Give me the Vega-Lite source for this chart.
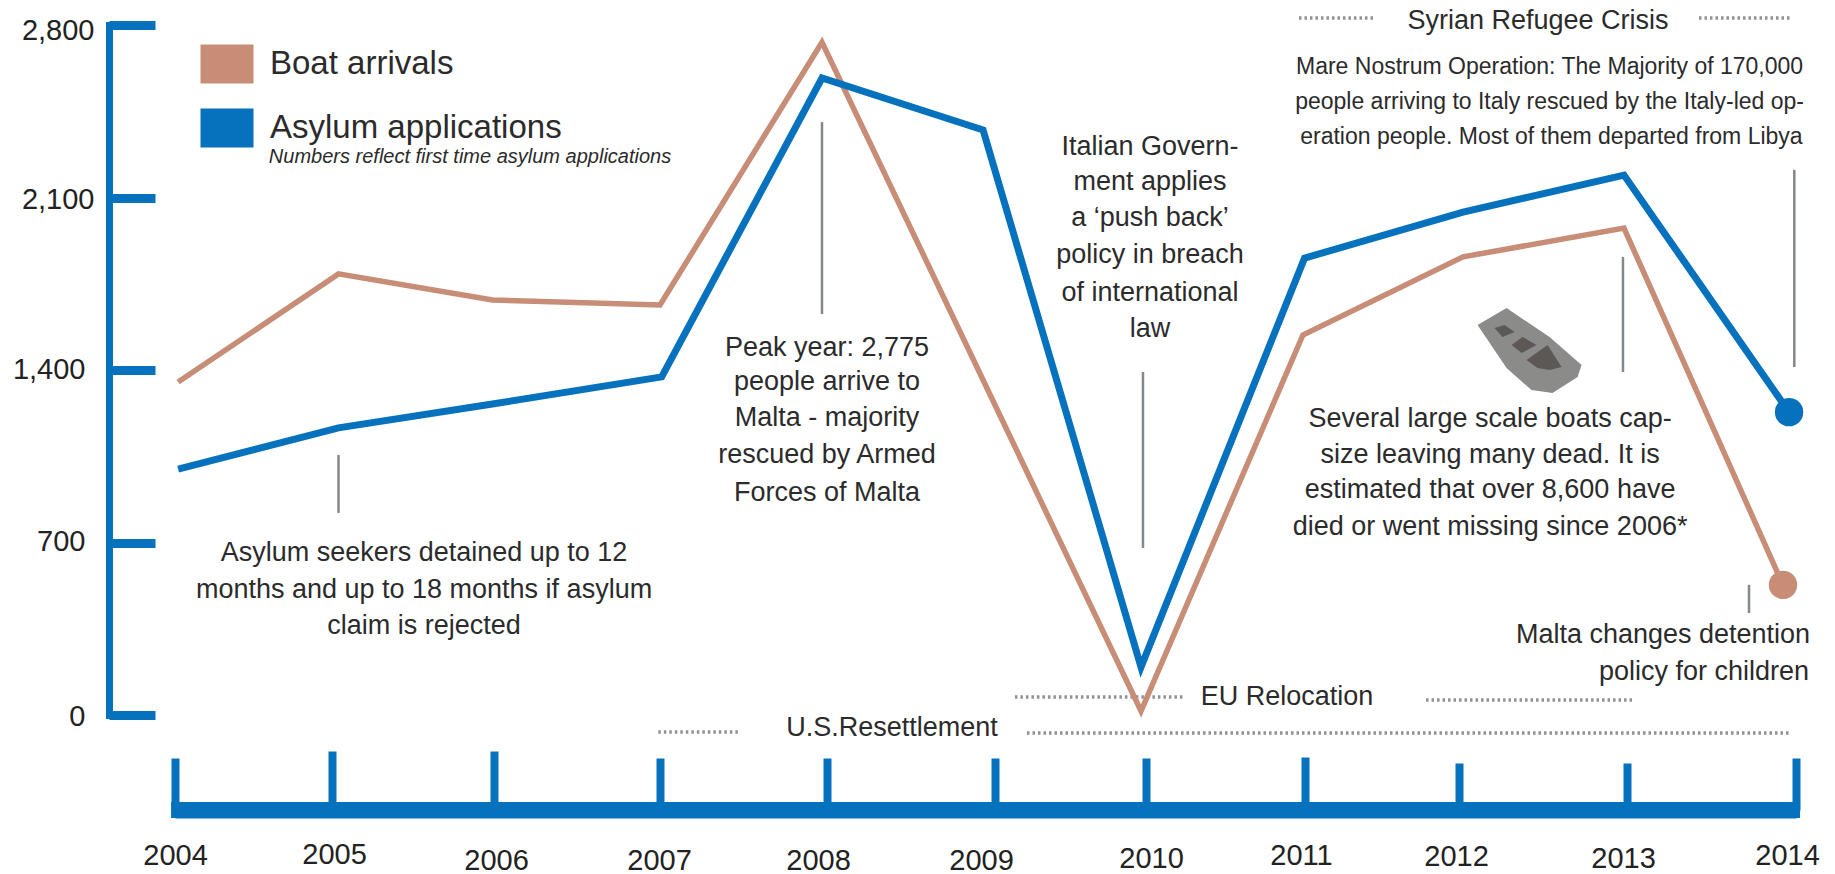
{
"$schema":"https://vega.github.io/schema/vega-lite/v6.json",
"width":1835,"height":874,"padding":0,"autosize":{"type":"none"},"background":"#ffffff",
"config":{"view":{"stroke":null},"text":{"font":"Liberation Sans","color":"#2b2b2b"}},
"datasets":{
"series":[
{"series":"Boat arrivals","year":2004,"x":2004.02,"value":1351},
{"series":"Boat arrivals","year":2005,"x":2005.04,"value":1790},
{"series":"Boat arrivals","year":2006,"x":2005.99,"value":1684},
{"series":"Boat arrivals","year":2007,"x":2007.00,"value":1664},
{"series":"Boat arrivals","year":2008,"x":2007.97,"value":2730},
{"series":"Boat arrivals","year":2009,"x":2009.00,"value":1258},
{"series":"Boat arrivals","year":2010,"x":2009.967,"value":16},
{"series":"Boat arrivals","year":2011,"x":2010.987,"value":1542},
{"series":"Boat arrivals","year":2012,"x":2012.024,"value":1859},
{"series":"Boat arrivals","year":2013,"x":2012.982,"value":1976},
{"series":"Boat arrivals","year":2014,"x":2013.923,"value":528},
{"series":"Asylum applications","year":2004,"x":2004.02,"value":998},
{"series":"Asylum applications","year":2005,"x":2005.04,"value":1165},
{"series":"Asylum applications","year":2006,"x":2005.99,"value":1262},
{"series":"Asylum applications","year":2007,"x":2007.01,"value":1372},
{"series":"Asylum applications","year":2008,"x":2007.97,"value":2585},
{"series":"Asylum applications","year":2009,"x":2008.929,"value":2374},
{"series":"Asylum applications","year":2010,"x":2009.967,"value":195},
{"series":"Asylum applications","year":2011,"x":2010.997,"value":1854},
{"series":"Asylum applications","year":2012,"x":2012.024,"value":2041},
{"series":"Asylum applications","year":2013,"x":2012.982,"value":2191},
{"series":"Asylum applications","year":2014,"x":2013.959,"value":1229}
],
"leaders":[
{"x":2005.04,"value":1055,"value2":820},
{"x":2007.97,"value":2406,"value2":1627},
{"x":2009.98,"value":1392,"value2":678},
{"x":2012.976,"value":1859,"value2":1392},
{"x":2013.99,"value":2212,"value2":1412},
{"x":2013.722,"value":528,"value2":414}
],
"periods":[
{"period":"Syrian Refugee Crisis","x":2010.962,"x2":2011.455,"value":2828},
{"period":"Syrian Refugee Crisis","x":2013.426,"x2":2013.964,"value":2828},
{"period":"EU Relocation","x":2009.132,"x2":2010.239,"value":73},
{"period":"EU Relocation","x":2011.786,"x2":2013.047,"value":61},
{"period":"U.S.Resettlement","x":2006.99,"x2":2007.467,"value":-69},
{"period":"U.S.Resettlement","x":2009.212,"x2":2013.97,"value":-73}
],
"timeline":[{"x":2003.975,"x2":2014.024,"value":-385.5}],
"notes":[
{"text":"Asylum seekers detained up to 12","x":2005.568,"value":657},
{"text":"months and up to 18 months if asylum","x":2005.568,"value":507},
{"text":"claim is rejected","x":2005.568,"value":361},
{"text":"Peak year: 2,775","x":2008.0,"value":1489},
{"text":"people arrive to","x":2008.0,"value":1351},
{"text":"Malta - majority","x":2008.0,"value":1205},
{"text":"rescued by Armed","x":2008.0,"value":1055},
{"text":"Forces of Malta","x":2008.0,"value":901},
{"text":"Italian Govern-","x":2010.025,"value":2305},
{"text":"ment applies","x":2010.025,"value":2163},
{"text":"a ‘push back’","x":2010.025,"value":2017},
{"text":"policy in breach","x":2010.025,"value":1867},
{"text":"of international","x":2010.025,"value":1712},
{"text":"law","x":2010.025,"value":1566},
{"text":"Syrian Refugee Crisis","x":2012.47,"value":2816},
{"text":"Several large scale boats cap-","x":2012.185,"value":1201},
{"text":"size leaving many dead. It is","x":2012.185,"value":1055},
{"text":"estimated that over 8,600 have","x":2012.185,"value":913},
{"text":"died or went missing since 2006*","x":2012.185,"value":763},
{"text":"Malta changes detention","x":2013.213,"value":325},
{"text":"policy for children","x":2013.456,"value":174},
{"text":"EU Relocation","x":2010.887,"value":73},
{"text":"U.S.Resettlement","x":2008.387,"value":-53}
],
"mare":[
{"text":"Mare Nostrum Operation: The Majority of 170,000","x":2012.539,"value":2630},
{"text":"people arriving to Italy rescued by the Italy-led op-","x":2012.539,"value":2488},
{"text":"eration people. Most of them departed from Libya","x":2012.55,"value":2346}
],
"legendNote":[{"text":"Numbers reflect first time asylum applications","x":2005.852,"value":2264}],
"boat":[{"x":2012.42,"value":1481}]
},
"encoding":{
"x":{"field":"x","type":"quantitative","title":null,
 "scale":{"domain":[2004,2005,2006,2007,2008,2009,2010,2011,2012,2013,2014],"range":[175,332,494,660,827,995,1146,1305,1459,1627,1796]},
 "axis":{"values":[2004,2005,2006,2007,2008,2009,2010,2011,2012,2013,2014],"format":"d","grid":false,"offset":-64,
  "domainColor":"#0672bd","domainWidth":16,"tickColor":"#0672bd","tickWidth":8,
  "tickSize":{"expr":"datum.value==2005||datum.value==2006?-59:datum.value==2012||datum.value==2013?-47:datum.value==2011?-53:-52"},
  "labelFont":"Liberation Sans","labelFontSize":29,"labelColor":"#222222","labelBaseline":"middle","labelFlush":false,"labelOverlap":false,"labelBound":false,
  "labelPadding":{"expr":"{'2004':97,'2005':103,'2006':109,'2007':102,'2008':102,'2009':102,'2010':100,'2011':98,'2012':93,'2013':95,'2014':97}[''+datum.value]"},
  "labelOffset":{"expr":"{'2004':0,'2005':2,'2006':2,'2007':-1,'2008':-9,'2009':-14,'2010':5,'2011':-4,'2012':-3,'2013':-4,'2014':-9}[''+datum.value]"}}},
"y":{"field":"value","type":"quantitative","title":null,
 "scale":{"domain":[0,2800],"range":[715,25]},
 "axis":{"values":[0,700,1400,2100,2800],"format":",d","grid":false,"offset":-109,
  "domainColor":"#0672bd","domainWidth":7,"domainCap":"square","tickColor":"#0672bd","tickWidth":9,"tickSize":-46,
  "labelFont":"Liberation Sans","labelFontSize":29,"labelColor":"#222222","labelBaseline":"middle","labelFlush":false,"labelOverlap":false,"labelBound":false,
  "labelPadding":{"expr":"datum.value==2800||datum.value==2100?61:70"},
  "labelOffset":{"expr":"datum.value==2800?5:datum.value==2100?2:datum.value==1400?-1:datum.value==700?-1:1"}}}
},
"layer":[
{"data":{"name":"periods"},"mark":{"type":"rule","color":"#8f9295","strokeWidth":3.5,"strokeDash":[2.5,3]},"encoding":{"x2":{"field":"x2"}}},
{"data":{"name":"leaders"},"mark":{"type":"rule","color":"#85888b","strokeWidth":2.5},"encoding":{"y2":{"field":"value2"}}},
{"data":{"name":"timeline"},"mark":{"type":"rule","color":"#0672bd","strokeWidth":16},"encoding":{"x2":{"field":"x2"}}},
{"data":{"name":"series"},"mark":{"type":"line","strokeWidth":5.5,"strokeJoin":"miter"},
 "transform":[{"filter":"datum.series=='Boat arrivals'"}],
 "encoding":{"color":{"field":"series","type":"nominal","scale":{"domain":["Boat arrivals","Asylum applications"],"range":["#c78d76","#0672bd"]},
   "legend":{"orient":"none","legendX":181,"legendY":37,"title":null,"symbolType":"stroke","symbolStrokeWidth":39,"symbolSize":2809,"labelFont":"Liberation Sans","labelFontSize":33,"labelLimit":500,"labelColor":"#2b2b2b","rowPadding":10,"clipHeight":54,"labelOffset":-3}}}},
{"data":{"name":"series"},"mark":{"type":"line","strokeWidth":7,"strokeJoin":"miter"},
 "transform":[{"filter":"datum.series=='Asylum applications'"}],
 "encoding":{"color":{"field":"series","type":"nominal"}}},
{"data":{"name":"series"},"mark":{"type":"point","filled":true,"opacity":1,"size":805},
 "transform":[{"filter":"datum.year==2014"}],
 "encoding":{"color":{"field":"series","type":"nominal","legend":null}}},
{"data":{"name":"boat"},"mark":{"type":"point","filled":true,"opacity":1,"color":"#8b8b8a","size":4,"shape":"M-52,-25L-23,-42L20,-13L52,15L48,27L23,43L2,40L-23,18Z"}},
{"data":{"name":"boat"},"mark":{"type":"point","filled":true,"opacity":1,"color":"#5c5856","size":4,"shape":"M-35,-22L-25,-25L-15,-18L-27,-13ZM-18,-5L-7,-13L7,-5L-8,3ZM-3,10L18,-5L32,17L20,20L8,18Z"}},
{"data":{"name":"notes"},"mark":{"type":"text","fontSize":27,"align":"center","baseline":"middle"},"encoding":{"text":{"field":"text"}}},
{"data":{"name":"mare"},"mark":{"type":"text","fontSize":23,"align":"center","baseline":"middle"},"encoding":{"text":{"field":"text"}}},
{"data":{"name":"legendNote"},"mark":{"type":"text","fontSize":20,"fontStyle":"italic","align":"center","baseline":"middle"},"encoding":{"text":{"field":"text"}}}
]
}
